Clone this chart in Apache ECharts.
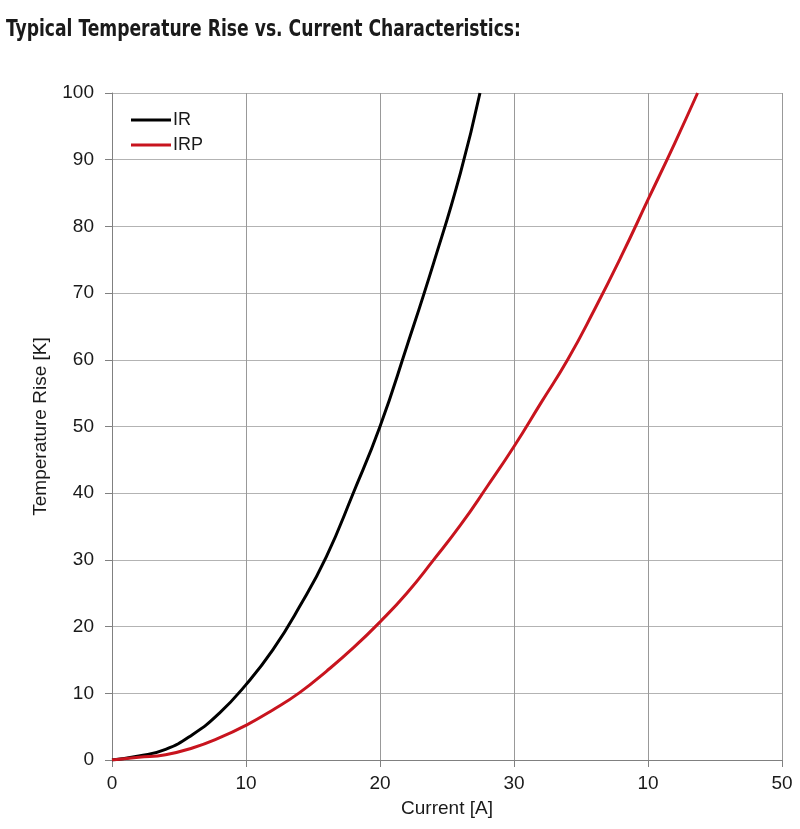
<!DOCTYPE html>
<html>
<head>
<meta charset="utf-8">
<script src="https://cdn.jsdelivr.net/npm/echarts@6/dist/echarts.min.js"></script>
<style>
html,body{margin:0;padding:0;background:#fff;}
#c{width:800px;height:829px;}
</style>
</head>
<body>
<div id="c"></div>
<script>
const titleText = 'Typical Temperature Rise vs. Current Characteristics:';
const xName = 'Current [A]';
const yName = 'Temperature Rise [K]';
const xTickLabels = ['0', '10', '20', '30', '10', '50'];
const seriesNames = ['IR', 'IRP'];
// [current A, temperature rise K]
const irData = [
  [0, 0], [2, 0.6], [4, 1.6], [6, 3.8], [8, 7.0], [10, 11.3],
  [12, 16.5], [14, 23], [16, 30.5], [18, 40], [20, 50], [22, 62],
  [24, 74.5], [26, 88], [27.46, 100]
];
const irpData = [
  [0, 0], [2, 0.4], [4, 0.8], [6, 1.8], [8, 3.3], [10, 5.2], [12, 7.5],
  [14, 10.1], [16, 13.3], [18, 16.8], [20, 20.7], [22, 25], [24, 30],
  [26, 35.2], [28, 41], [30, 47], [32, 53.5], [34, 60], [36, 67.5],
  [38, 75.5], [40, 84], [42, 92.5], [43.7, 100]
];

const chart = echarts.init(document.getElementById('c'));
const textColor = '#1a1a1a';
const font = '"Liberation Sans",Arial,sans-serif';
chart.setOption({
  animation: false,
  backgroundColor: '#fff',
  graphic: [{
    type: 'text', left: 6, top: 19, scaleX: 0.83,
    style: {
      text: titleText,
      font: 'bold 23px "DejaVu Sans Condensed","DejaVu Sans",sans-serif',
      fill: '#1a1a1a'
    }
  }],
  legend: {
    orient: 'vertical', left: 126, top: 106,
    itemWidth: 40, itemHeight: 3, itemGap: 7,
    icon: 'rect',
    textStyle: {fontFamily: font, fontSize: 18, color: textColor, padding: [0, 0, 0, -3]},
    data: seriesNames
  },
  grid: {left: 112, right: 18, top: 93, bottom: 69},
  xAxis: {
    type: 'value', min: 0, max: 50, interval: 10,
    name: xName, nameLocation: 'middle', nameGap: 39,
    nameTextStyle: {fontFamily: font, fontSize: 19, color: textColor},
    axisLine: {show: true, onZero: false, lineStyle: {color: '#808080', width: 1}},
    axisTick: {show: true, length: 7, lineStyle: {color: '#808080'}},
    axisLabel: {fontFamily: font, fontSize: 19, color: textColor, margin: 14,
      formatter: function (v) { return xTickLabels[Math.round(v / 10)]; }},
    splitLine: {show: true, lineStyle: {color: '#999999', width: 1}}
  },
  yAxis: {
    type: 'value', min: 0, max: 100, interval: 10,
    name: yName, nameLocation: 'middle', nameGap: 62,
    nameTextStyle: {fontFamily: font, fontSize: 19, color: textColor},
    axisLine: {show: true, lineStyle: {color: '#808080', width: 1}},
    axisTick: {show: true, length: 7, lineStyle: {color: '#808080'}},
    axisLabel: {fontFamily: font, fontSize: 19, color: textColor, margin: 18},
    splitLine: {show: true, lineStyle: {color: '#b3b3b3', width: 1}}
  },
  series: [
    {name: seriesNames[0], type: 'line', data: irData, smooth: 0.5, showSymbol: false,
      lineStyle: {color: '#000', width: 3}, itemStyle: {color: '#000'}},
    {name: seriesNames[1], type: 'line', data: irpData, smooth: 0.5, showSymbol: false,
      lineStyle: {color: '#c8141e', width: 3}, itemStyle: {color: '#c8141e'}}
  ]
});
</script>
</body>
</html>
